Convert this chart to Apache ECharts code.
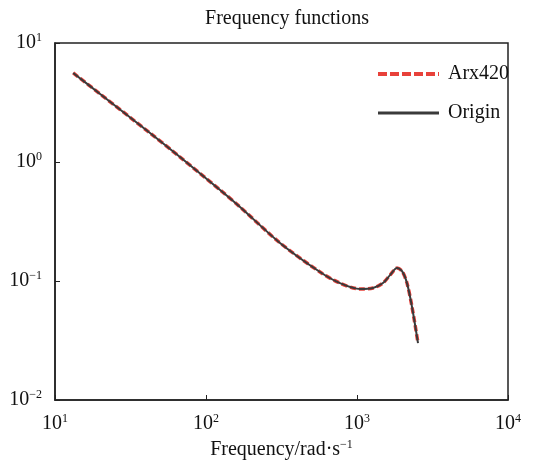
<!DOCTYPE html>
<html><head><meta charset="utf-8">
<script src="https://cdn.jsdelivr.net/npm/echarts@6/dist/echarts.min.js"></script>
<style>html,body{margin:0;padding:0;background:#fff}#c{width:538px;height:460px}</style>
</head><body><div id="c"></div>
<script>
var freq = [13.2, 19.9, 42.6, 67.3, 124, 168, 309, 569, 771, 1047, 1276, 1486, 1655, 1841, 1988, 2143, 2314, 2535];
var mag  = [5.60, 3.73, 1.75, 1.10, 0.582, 0.419, 0.209, 0.119, 0.096, 0.0857, 0.0873, 0.0962, 0.112, 0.1285, 0.121, 0.096, 0.0605, 0.0301];
var seriesNames = ['Arx420', 'Origin'];
var titleText = 'Frequency functions';
var xName = 'Frequency/rad·s';

var pts = freq.map(function(f, i){ return [f, mag[i]]; });
function fmt(v){ var e = Math.round(Math.log10(v)); return '{b|10}{s|' + (e < 0 ? '−' + (-e) : e) + '}'; }
var font = 'Liberation Serif';
var rich = {
  b: {fontFamily:font, fontSize:20, color:'#111'},
  s: {fontFamily:font, fontSize:12, color:'#111', padding:[0,0,10,0]}
};
var chart = echarts.init(document.getElementById('c'), null, {renderer:'canvas'});
chart.setOption({
  animation:false,
  backgroundColor:'#fff',
  title:{text:titleText, left:282, textAlign:'center', top:4,
    textStyle:{fontFamily:font, fontSize:20, fontWeight:'normal', color:'#111'}},
  grid:{left:55, right:30, top:43, bottom:60, show:true, borderColor:'#222', borderWidth:1.5,
    containLabel:false, outerBoundsMode:'none'},
  legend:{orient:'vertical', left:371, top:59, itemWidth:61, itemHeight:14, itemGap:19,
    itemStyle:{opacity:0},
    data:[{name:seriesNames[0], lineStyle:{type:[9,3], width:4}}, {name:seriesNames[1], lineStyle:{width:3}}],
    textStyle:{fontFamily:font, fontSize:20, color:'#111', padding:[0,0,0,4]}},
  xAxis:{type:'log', logBase:10, min:10, max:10000,
    name:xName + '{s|−1}', nameLocation:'middle', nameGap:39,
    nameTextStyle:{fontFamily:font, fontSize:20, color:'#111', rich:{s:{fontFamily:font, fontSize:12, color:'#111', padding:[0,0,10,0]}}},
    axisLine:{lineStyle:{color:'#222', width:1.5}},
    axisTick:{inside:true, length:5, lineStyle:{color:'#222'}},
    minorTick:{show:false},
    splitLine:{show:false},
    axisLabel:{formatter:fmt, rich:rich, margin:13}},
  yAxis:{type:'log', logBase:10, min:0.01, max:10,
    axisLine:{lineStyle:{color:'#222', width:1.5}},
    axisTick:{inside:true, length:5, lineStyle:{color:'#222'}},
    splitLine:{show:false},
    axisLabel:{formatter:fmt, rich:rich, margin:13}},
  series:[
    {name:seriesNames[0], type:'line', data:pts, symbol:'none', smooth:0.3, z:2,
      lineStyle:{color:'#e8413a', width:3.5, type:[6,3]}, itemStyle:{color:'#e8413a'}},
    {name:seriesNames[1], type:'line', data:pts, symbol:'none', smooth:0.3, z:3,
      lineStyle:{color:'#3a3a3a', width:2}, itemStyle:{color:'#3a3a3a'}}
  ]
});
</script></body></html>
